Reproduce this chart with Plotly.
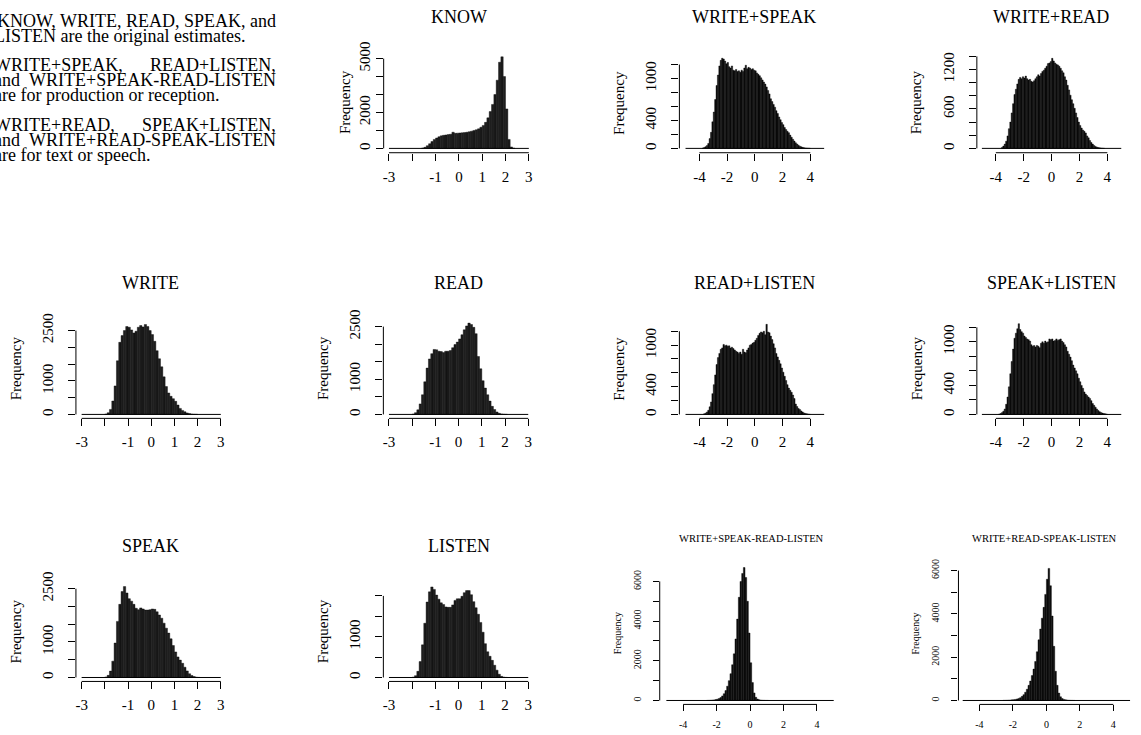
import plotly.graph_objects as go

W, H = 1141, 735
BIN = 0.1  # histogram bin width (data units)

# ------------------------------------------------------------------ data
KNOW_start = -1.6
KNOW_counts = [20, 60, 150, 260, 380, 500, 580, 650, 700, 730, 750, 770, 790, 900, 840,
               850, 860, 870, 880, 900, 930, 960, 1000, 1040, 1090, 1180, 1280, 1450, 1700, 2050,
               2450, 3000, 3800, 4800, 5100, 4000, 2200, 500, 80, 15]

WRITE_start = -2.0
WRITE_counts = [10, 50, 150, 400, 850, 1600, 2150, 2350, 2500, 2620, 2600, 2520, 2430, 2480, 2600,
                2650, 2610, 2680, 2620, 2500, 2380, 2180, 1900, 1660, 1420, 1120, 830, 640, 540, 470,
                390, 280, 180, 120, 80, 45, 25, 12, 6, 3]

READ_start = -2.0
READ_counts = [10, 50, 130, 300, 560, 930, 1320, 1580, 1730, 1850, 1840, 1800, 1790, 1760, 1800,
               1800, 1820, 1900, 1990, 2060, 2150, 2270, 2410, 2520, 2600, 2560, 2480, 2300, 1650, 1300,
               960, 750, 560, 380, 230, 140, 70, 32, 15, 6, 2]

SPEAK_start = -2.0
SPEAK_counts = [15, 60, 180, 460, 970, 1580, 2060, 2420, 2560, 2380, 2220, 2150, 2060, 1950, 1910,
                1960, 1930, 1900, 1900, 1910, 1930, 1920, 1850, 1760, 1670, 1530, 1390, 1250, 1090, 900,
                720, 580, 490, 400, 290, 185, 105, 55, 25, 10, 4]

LISTEN_start = -2.0
LISTEN_counts = [10, 45, 150, 390, 800, 1330, 1850, 2100, 2220, 2160, 2020, 1920, 1830, 1790, 1730,
                 1720, 1720, 1780, 1890, 1930, 1930, 1990, 2080, 2130, 2130, 2030, 1860, 1710, 1550, 1350,
                 1110, 830, 630, 520, 420, 300, 180, 80, 28, 10, 3]

WS_start = -3.8
WS_counts = [5, 12, 25, 40, 70, 140, 230, 380, 520, 700, 900, 1050, 1180, 1260, 1290,
             1280, 1250, 1210, 1230, 1170, 1150, 1180, 1120, 1110, 1130, 1100, 1110, 1090, 1120, 1100,
             1150, 1190, 1140, 1160, 1150, 1130, 1140, 1120, 1110, 1080, 1060, 1040, 1010, 980, 950,
             920, 880, 830, 780, 710, 670, 630, 590, 540, 500, 450, 410, 370, 340, 300,
             270, 245, 225, 190, 160, 130, 105, 80, 62, 45, 32, 22, 15, 10, 6, 4, 2, 1]

WR_start = -3.6
WR_counts = [15, 35, 65, 110, 190, 300, 400, 540, 680, 820, 900, 980, 1050, 1080, 1060,
             1090, 1070, 1100, 1060, 1040, 1050, 1020, 1010, 1030, 1060, 1090, 1120, 1100, 1140, 1170,
             1190, 1220, 1250, 1290, 1300, 1320, 1370, 1330, 1300, 1280, 1270, 1250, 1220, 1180, 1150,
             1090, 1040, 960, 890, 810, 740, 680, 610, 540, 470, 400, 350, 310, 280, 260,
             235, 190, 160, 120, 90, 65, 45, 30, 20, 12, 8, 5, 3, 1]

RL_start = -3.7
RL_counts = [8, 18, 35, 60, 110, 180, 300, 430, 570, 720, 820, 880, 940, 960, 1010,
             990, 1000, 985, 990, 960, 970, 950, 930, 910, 900, 880, 900, 870, 940, 900,
             890, 930, 960, 1000, 1010, 1030, 1040, 1070, 1100, 1140, 1170, 1190, 1180, 1200, 1150,
             1300, 1190, 1180, 1130, 1080, 1020, 960, 880, 830, 780, 730, 670, 610, 550, 490,
             430, 380, 350, 320, 280, 230, 150, 115, 85, 70, 50, 35, 22, 14, 9, 5, 2]

SL_start = -3.8
SL_counts = [5, 12, 25, 45, 75, 140, 240, 380, 560, 730, 900, 1050, 1120, 1180, 1250,
             1170, 1140, 1120, 1080, 1060, 1040, 1030, 1010, 960, 940, 950, 930, 950, 940, 920,
             980, 1000, 980, 1010, 990, 1000, 1040, 1030, 1040, 1010, 1020, 1040, 1020, 1030, 1040,
             1010, 990, 960, 930, 870, 830, 790, 740, 680, 640, 600, 560, 500, 450, 400,
             360, 310, 280, 260, 240, 220, 190, 150, 125, 100, 75, 55, 38, 26, 18, 12, 8, 5]

WSRL_start = -2.6
WSRL_counts = [5, 8, 12, 20, 30, 45, 65, 100, 150, 230, 340, 500, 720, 1000, 1350,
               1800, 2350, 3100, 4100, 5200, 6000, 6400, 6700, 6200, 5000, 3400, 1900, 900, 380, 160,
               70, 35, 18, 10, 6, 3, 2]

WRSL_start = -2.6
WRSL_counts = [5, 7, 10, 14, 20, 28, 38, 50, 70, 95, 130, 190, 270, 380, 520,
               700, 900, 1150, 1450, 1800, 2250, 2800, 3300, 3800, 4300, 4900, 5600, 6100, 5300, 3900,
               2500, 1350, 700, 340, 170, 90, 50, 30, 18, 10, 6, 4, 2]

# histogram break ranges
BREAKS_3 = (-3, 3)
BREAKS_5 = (-5, 5)

# tick values / labels
X3_ticks = [-3, -2, -1, 0, 1, 2, 3]
X3_labels = ["-3", "", "-1", "0", "1", "2", "3"]
X5_ticks = [-4, -2, 0, 2, 4]
X5_labels = ["-4", "-2", "0", "2", "4"]
Y_KNOW_ticks = [0, 1000, 2000, 3000, 4000, 5000]
Y_KNOW_labels = ["0", "", "2000", "", "", "5000"]
Y_2500_ticks = [0, 500, 1000, 1500, 2000, 2500]
Y_2500_labels = ["0", "", "1000", "", "", "2500"]
Y_2000_ticks = [0, 500, 1000, 1500, 2000]
Y_2000_labels = ["0", "", "1000", "", ""]
Y_1200_ticks = [0, 200, 400, 600, 800, 1000, 1200]
Y_1200_labels = ["0", "", "400", "", "", "1000", ""]
Y_1400_ticks = [0, 200, 400, 600, 800, 1000, 1200, 1400]
Y_1400_labels = ["0", "", "", "600", "", "", "1200", ""]
Y_6000_ticks = [0, 1000, 2000, 3000, 4000, 5000, 6000]
Y_6000_labels = ["0", "", "2000", "", "4000", "", "6000"]

# paragraph lines: (left-aligned part, right-aligned part)
PARAGRAPH = [
    (None, "KNOW, WRITE, READ, SPEAK, and"),
    ("LISTEN are the original estimates.", None),
    ("WRITE+SPEAK,", "READ+LISTEN,"),
    ("and", "WRITE+SPEAK-READ-LISTEN"),
    ("are for production or reception.", None),
    ("WRITE+READ,", "SPEAK+LISTEN,"),
    ("and", "WRITE+READ-SPEAK-LISTEN"),
    ("are for text or speech.", None),
]

SERIES = {
    "KNOW": (KNOW_start, KNOW_counts, BREAKS_3, X3_ticks, X3_labels, Y_KNOW_ticks, Y_KNOW_labels),
    "WRITE+SPEAK": (WS_start, WS_counts, BREAKS_5, X5_ticks, X5_labels, Y_1200_ticks, Y_1200_labels),
    "WRITE+READ": (WR_start, WR_counts, BREAKS_5, X5_ticks, X5_labels, Y_1400_ticks, Y_1400_labels),
    "WRITE": (WRITE_start, WRITE_counts, BREAKS_3, X3_ticks, X3_labels, Y_2500_ticks, Y_2500_labels),
    "READ": (READ_start, READ_counts, BREAKS_3, X3_ticks, X3_labels, Y_2500_ticks, Y_2500_labels),
    "READ+LISTEN": (RL_start, RL_counts, BREAKS_5, X5_ticks, X5_labels, Y_1200_ticks, Y_1200_labels),
    "SPEAK+LISTEN": (SL_start, SL_counts, BREAKS_5, X5_ticks, X5_labels, Y_1200_ticks, Y_1200_labels),
    "SPEAK": (SPEAK_start, SPEAK_counts, BREAKS_3, X3_ticks, X3_labels, Y_2500_ticks, Y_2500_labels),
    "LISTEN": (LISTEN_start, LISTEN_counts, BREAKS_3, X3_ticks, X3_labels, Y_2000_ticks, Y_2000_labels),
    "WRITE+SPEAK-READ-LISTEN": (WSRL_start, WSRL_counts, BREAKS_5, X5_ticks, X5_labels, Y_6000_ticks, Y_6000_labels),
    "WRITE+READ-SPEAK-LISTEN": (WRSL_start, WRSL_counts, BREAKS_5, X5_ticks, X5_labels, Y_6000_ticks, Y_6000_labels),
}

# ------------------------------------------------------------------ layout geometry (pixels)
# (xa, xa_px, xb, xb_px, y0_px, ytop_val, ytop_px, xaxis_px, yaxis_px,
#  title_x, title_y, freq_x, freq_y, ylabel_standoff, small)
GEOM = {
    "KNOW": (-3, 388.3, 3, 528.3, 140.3, 5000, 49.3, 144.7, 383, 458, 7, 345, 93.7, 0, False),
    "WRITE+SPEAK": (-4, 699, 4, 810, 140.3, 1200, 55.3, 144.7, 679, 754, 7, 619, 93.7, 9, False),
    "WRITE+READ": (-4, 995.7, 4, 1107.3, 140.3, 1400, 47, 144.7, 976.7, 1051, 7, 916.7, 93.7, 9, False),
    "WRITE": (-3, 80.7, 3, 220, 410, 2500, 325, 414, 75, 150, 277, 15, 363.3, 9, False),
    "READ": (-3, 388.3, 3, 527.7, 410, 2500, 321, 414, 382.7, 458, 277, 323, 363.3, 9, False),
    "READ+LISTEN": (-4, 699, 4, 810, 410, 1200, 325.7, 414, 679, 754, 277, 619, 363.3, 9, False),
    "SPEAK+LISTEN": (-4, 995.7, 4, 1107.3, 410, 1200, 321.7, 414, 976.7, 1051, 277, 916.7, 363.3, 9, False),
    "SPEAK": (-3, 80.7, 3, 220, 676.7, 2500, 586.7, 680.7, 75, 150, 543, 15, 630, 9, False),
    "LISTEN": (-3, 388.3, 3, 527.7, 676.7, 2000, 594, 680.7, 382.7, 458, 543, 323, 630, 9, False),
    "WRITE+SPEAK-READ-LISTEN": (-4, 682.7, 4, 816.7, 700, 6000, 579.3, 704, 659.3, 751, 536, 617.3, 632, 8, True),
    "WRITE+READ-SPEAK-LISTEN": (-4, 979.3, 4, 1113.3, 700, 6000, 568.3, 704, 958.3, 1044, 536, 915, 632, 8, True),
}

FONT = "Liberation Serif"
INK = "black"

TEXT_LINE_Y = [11, 26, 56, 71, 86, 117, 132, 147]
TEXT_LEFT_PX = -9
TEXT_RIGHT_PX = 277
TEXT_SIZE = 18


def px(x):
    return x / W


def py(y):
    return 1 - y / H


fig = go.Figure()
layout = dict(width=W, height=H, autosize=False, margin=dict(l=0, r=0, t=0, b=0),
              paper_bgcolor="white", plot_bgcolor="white", showlegend=False,
              font=dict(family=FONT, color=INK), bargap=0)
shapes = []
annotations = []

for i, (name, (start, counts, brk, xt, xl, yt, yl)) in enumerate(SERIES.items(), start=1):
    (xa, xa_px, xb, xb_px, y0_px, ytop_val, ytop_px, xaxis_px, yaxis_px,
     tx, ty, fx, fy, ystand, small) = GEOM[name]
    tick_size = 10 if small else 15
    title_size = 10.5 if small else 18
    ticklen = 6 if small else 7
    wide = brk[1] - brk[0] > 6
    fill = "#0f0f0f" if wide else "#1e1e1e"

    xppu = (xb_px - xa_px) / (xb - xa)
    right_px = xb_px + (brk[1] - xb) * xppu + 6
    x_left = xa - (xa_px - yaxis_px) / xppu
    x_right = xa + (right_px - xa_px) / xppu

    yppc = (y0_px - ytop_px) / ytop_val
    top_px = min(y0_px - max(counts) * yppc, ytop_px) - 5
    y_bottom = -(xaxis_px - y0_px) / yppc
    y_top = (y0_px - top_px) / yppc

    centers = [start + BIN * (k + 0.5) for k in range(len(counts))]
    fig.add_trace(go.Bar(x=centers, y=counts, width=BIN,
                         marker=dict(color=fill, line=dict(color=INK, width=0.4)),
                         xaxis=f"x{i}", yaxis=f"y{i}", hoverinfo="skip"))
    # histogram baseline spanning the break range
    fig.add_trace(go.Scatter(x=[brk[0], brk[1]], y=[0, 0], mode="lines",
                             line=dict(color=INK, width=1), xaxis=f"x{i}", yaxis=f"y{i}",
                             hoverinfo="skip"))

    ax_common = dict(showgrid=False, zeroline=False, showline=False, ticks="outside",
                     ticklen=ticklen, tickwidth=1, tickcolor=INK,
                     tickfont=dict(family=FONT, size=tick_size, color=INK))
    layout[f"xaxis{i}"] = dict(domain=[px(yaxis_px), px(right_px)], range=[x_left, x_right],
                               anchor=f"y{i}", tickmode="array", tickvals=xt, ticktext=xl,
                               ticklabelstandoff=5 if small else 3, **ax_common)
    layout[f"yaxis{i}"] = dict(domain=[py(xaxis_px), py(top_px)], range=[y_bottom, y_top],
                               anchor=f"x{i}", tickmode="array", tickvals=yt, ticktext=yl,
                               tickangle=-90, ticklabelstandoff=ystand, **ax_common)

    # detached R-style axis lines (from first to last tick)
    shapes.append(dict(type="line", xref="paper", yref="paper",
                       x0=px(xa_px + (xt[0] - xa) * xppu), x1=px(xa_px + (xt[-1] - xa) * xppu),
                       y0=py(xaxis_px), y1=py(xaxis_px), line=dict(color=INK, width=1)))
    shapes.append(dict(type="line", xref="paper", yref="paper",
                       x0=px(yaxis_px), x1=px(yaxis_px),
                       y0=py(y0_px - yt[0] * yppc), y1=py(y0_px - yt[-1] * yppc),
                       line=dict(color=INK, width=1)))

    annotations.append(dict(text=name, x=px(tx), y=py(ty), xref="paper", yref="paper",
                            xanchor="center", yanchor="middle", showarrow=False,
                            font=dict(family=FONT, size=title_size, color=INK)))
    annotations.append(dict(text="Frequency", x=px(fx), y=py(fy), xref="paper", yref="paper",
                            xanchor="center", yanchor="middle", showarrow=False, textangle=-90,
                            font=dict(family=FONT, size=tick_size, color=INK)))

for (left, right), ypix in zip(PARAGRAPH, TEXT_LINE_Y):
    if left is not None:
        annotations.append(dict(text=left, x=px(TEXT_LEFT_PX), y=py(ypix), xref="paper",
                                yref="paper", xanchor="left", yanchor="middle", showarrow=False,
                                font=dict(family=FONT, size=TEXT_SIZE, color=INK)))
    if right is not None:
        annotations.append(dict(text=right, x=px(TEXT_RIGHT_PX), y=py(ypix), xref="paper",
                                yref="paper", xanchor="right", yanchor="middle", showarrow=False,
                                font=dict(family=FONT, size=TEXT_SIZE, color=INK)))

layout["shapes"] = shapes
layout["annotations"] = annotations
fig.update_layout(**layout)
fig.write_html("out.html", config={"displayModeBar": False, "staticPlot": True},
               post_script="document.body.style.margin='0';document.body.style.overflow='hidden';")
